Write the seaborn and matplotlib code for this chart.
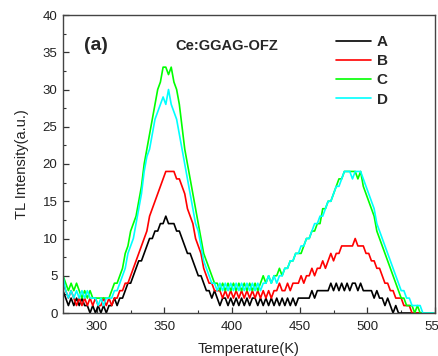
import numpy as np
import pandas as pd
import matplotlib
matplotlib.use("Agg")
import matplotlib.pyplot as plt
import seaborn as sns

# Temperature grid: 275 K to 549 K in 2 K steps
T_START, T_STEP = 275, 2

series_A = [3,2,1,2,1,2,1,2,1,1,
            0,1,0,1,0,1,0,1,1,2,
            1,2,2,3,4,4,5,6,7,7,
            8,9,10,10,11,11,12,12,13,12,
            12,12,11,11,10,9,8,8,7,6,
            5,5,4,3,3,2,3,2,1,2,
            2,1,2,1,2,1,2,1,2,1,
            2,2,1,2,1,2,1,2,1,2,
            1,2,1,2,1,2,1,2,2,2,
            2,2,3,2,3,3,3,3,3,4,
            3,4,3,4,3,4,3,4,4,3,
            4,3,3,3,3,2,3,2,2,1,
            2,1,0,1,0,0,0,0,0,0,
            0,0,0,0,0,0,0,0]
series_B = [4,3,2,3,2,1,2,1,2,1,
            2,1,2,1,1,2,1,2,1,2,
            2,3,3,4,4,5,6,7,8,9,
            10,11,13,14,15,16,17,18,19,19,
            19,19,18,18,17,16,14,13,12,10,
            9,8,6,5,4,4,3,3,3,2,
            3,2,3,2,3,2,3,2,3,2,
            3,2,3,2,3,2,3,2,3,3,
            4,3,3,4,3,4,4,4,5,4,
            5,5,6,5,6,6,7,6,7,8,
            7,8,8,9,9,9,9,9,10,9,
            9,9,8,8,7,7,6,6,5,4,
            4,3,3,2,2,2,1,1,1,0,
            0,0,0,0,0,0,0,0]
series_C = [5,4,3,4,3,4,3,2,3,2,
            3,2,2,2,2,2,2,2,3,4,
            4,5,6,8,9,11,12,13,15,17,
            20,22,24,26,28,30,31,33,33,32,
            33,31,30,28,25,22,20,18,16,14,
            12,10,8,7,6,5,4,4,3,4,
            3,4,3,4,3,4,3,4,3,4,
            3,4,3,4,5,4,5,4,5,5,
            6,5,6,6,7,7,8,8,8,9,
            10,10,11,11,12,12,14,14,15,15,
            16,17,18,18,19,19,19,19,19,18,
            19,17,16,15,14,13,11,10,9,8,
            7,6,5,4,3,2,2,1,1,1,
            0,1,0,0,0,0,0,0]
series_D = [5,3,2,3,2,3,2,3,2,3,
            2,2,2,1,2,1,2,2,2,3,
            3,4,5,6,8,9,10,12,14,16,
            19,21,22,24,26,27,28,29,28,30,
            28,27,26,24,22,20,18,16,14,12,
            11,9,7,6,5,4,4,3,4,3,
            4,3,4,3,4,3,4,3,4,3,
            4,3,4,3,4,4,5,4,5,4,
            5,5,6,6,7,7,8,8,9,9,
            10,10,11,12,12,13,13,14,15,15,
            16,17,17,18,19,19,19,18,19,19,
            19,18,17,16,15,14,12,11,10,9,
            8,7,6,5,4,3,3,2,2,1,
            1,1,1,0,0,0,0,0]

labels = ["A", "B", "C", "D"]
colors = ["#000000", "#ff0000", "#00ff00", "#00ffff"]
x_ticks = [300, 350, 400, 450, 500, 550]
y_ticks = [0, 5, 10, 15, 20, 25, 30, 35, 40]

frames = []
for lab, vals in zip(labels, [series_A, series_B, series_C, series_D]):
    temps = T_START + T_STEP * np.arange(len(vals))
    frames.append(pd.DataFrame({"Temperature": temps, "Intensity": vals, "Sample": lab}))
df = pd.concat(frames, ignore_index=True)

sns.set_theme(style="ticks")
plt.rcParams["font.family"] = ["Liberation Sans", "DejaVu Sans"]

fig = plt.figure(figsize=(4.38, 3.56), dpi=100)
ax = fig.add_axes([63/438, 1-313/356, (435-63)/438, (313-15)/356])

sns.lineplot(data=df, x="Temperature", y="Intensity", hue="Sample",
             palette=dict(zip(labels, colors)), linewidth=1.2, ax=ax,
             estimator=None, sort=False)

ax.set_xlim(275, 549)
ax.set_ylim(0, 40)
ax.set_xticks(x_ticks)
ax.set_yticks(y_ticks)
ax.set_xticks([325, 375, 425, 475, 525], minor=True)
ax.set_yticks([2.5 + 5*i for i in range(8)], minor=True)
ax.tick_params(which="both", direction="in", labelsize=9.5, colors="#333333",
               labelcolor="#222222")
ax.tick_params(axis="x", which="major", pad=6)
ax.tick_params(axis="y", which="major", pad=4)
ax.tick_params(which="major", length=4, width=0.9)
ax.tick_params(which="minor", length=2.5, width=0.8)
for s in ax.spines.values():
    s.set_color("#444444")
    s.set_linewidth(1.0)

ax.set_xlabel("Temperature(K)", fontsize=10.5, color="#222222", labelpad=6)
ax.set_ylabel("TL Intensity(a.u.)", fontsize=10.5, color="#222222", labelpad=10)

ax.text(0.056, 0.899, "(a)", transform=ax.transAxes, fontsize=14,
        fontweight="bold", va="center", ha="left")
ax.text(0.301, 0.896, "Ce:GGAG-OFZ", transform=ax.transAxes, fontsize=10.5,
        fontweight="bold", va="center", ha="left")

handles, hl = ax.get_legend_handles_labels()
leg = ax.legend(handles, hl, loc="upper left", bbox_to_anchor=(0.734, 0.933),
                frameon=False, borderpad=0, borderaxespad=0,
                handlelength=2.3, handletextpad=0.35, labelspacing=0.34,
                prop={"weight": "bold", "size": 11})

fig.savefig("out.png", dpi=100)
